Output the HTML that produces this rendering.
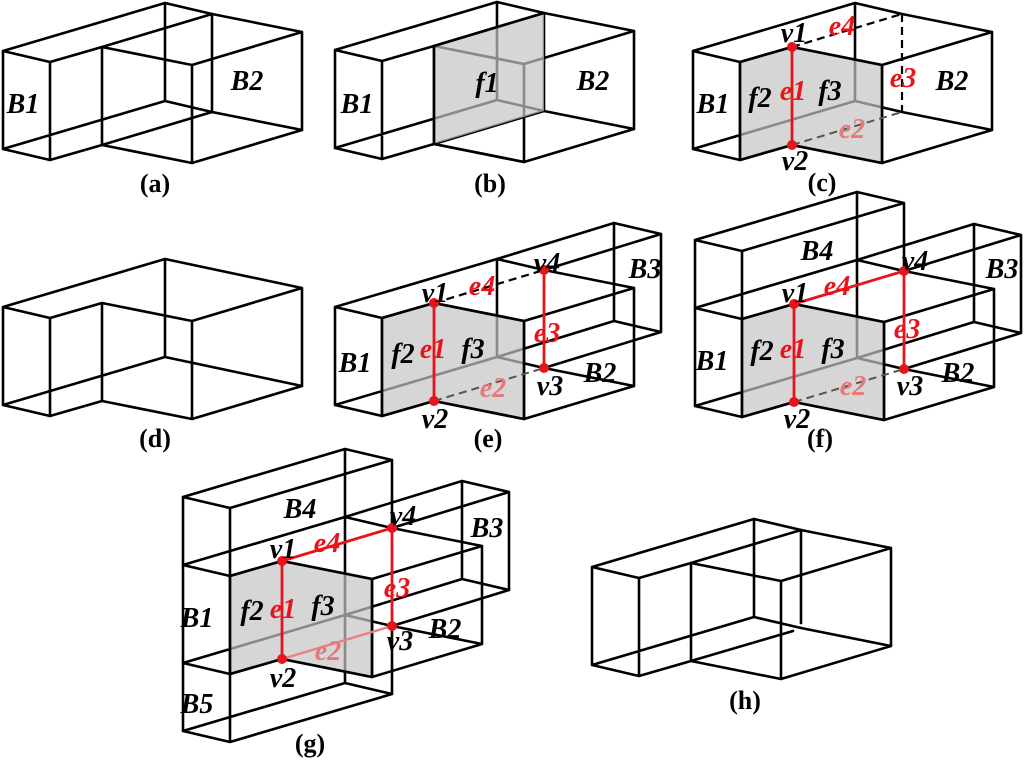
<!DOCTYPE html>
<html><head><meta charset="utf-8"><style>
html,body{margin:0;padding:0;background:#fff;}
svg{display:block;}
.k{fill:none;stroke:#000;stroke-width:2.6;stroke-linecap:round;stroke-linejoin:round;}
.ds{fill:none;stroke:#000;stroke-width:2.2;stroke-dasharray:8 5;}
.dg{fill:none;stroke:#555;stroke-width:2;stroke-dasharray:8 5;}
.r{fill:none;stroke:#e8141c;stroke-width:2.8;}
.rp{fill:none;stroke:#ea7f7f;stroke-width:2.4;}
.sh{fill:#c4c4c4;fill-opacity:0.7;stroke:none;}
text{font-family:"Liberation Serif",serif;font-weight:bold;}
.l{font-style:italic;font-size:28px;text-anchor:middle;fill:#000;}
.lr{font-style:italic;font-size:28px;text-anchor:middle;fill:#e8141c;}
.lp{font-style:italic;font-size:28px;text-anchor:middle;fill:#e87878;}
.c{font-size:26px;text-anchor:middle;fill:#000;}
</style></head><body>
<svg width="1024" height="762" viewBox="0 0 1024 762" xmlns="http://www.w3.org/2000/svg">

<!-- (a) -->
<g>
<path class="k" d="M3 51L50 62M50 62L102 47M3 51L165 3M165 3L212 14M3 149L50 160M50 160L102 145M3 149L165 101M165 101L212 112M3 51V149M50 62V160M165 3V101M102 47L192 65M192 65L302 32M302 32L212 14M102 145L192 163M192 163L302 130M302 130L212 112M192 65V163M302 32V130"/>
<path class="k" d="M102 47L212 14M212 14V112M102 145L212 112M102 47V145"/>
</g>
<!-- (b) -->
<g transform="translate(332,-1)">
<path class="k" d="M3 51L50 62M50 62L102 47M3 51L165 3M165 3L212 14M3 149L50 160M50 160L102 145M3 149L165 101M165 101L212 112M3 51V149M50 62V160M165 3V101M102 47L192 65M192 65L302 32M302 32L212 14M102 145L192 163M192 163L302 130M302 130L212 112M192 65V163M302 32V130"/>
<path class="k" d="M102 47L212 14M212 14V112M102 145L212 112M102 47V145"/>
<polygon class="sh" points="102,47 212,14 212,112 102,145"/>
<path class="k" d="M102 47L212 14M102 47V145M102 145L192 163"/>
</g>
<!-- (c) -->
<g transform="translate(690,0)">
<path class="k" d="M3 51L50 62M50 62L102 47M3 51L165 3M165 3L212 14M3 149L50 160M50 160L102 145M3 149L165 101M165 101L212 112M3 51V149M50 62V160M165 3V101M102 47L192 65M192 65L302 32M302 32L212 14M102 145L192 163M192 163L302 130M302 130L212 112M192 65V163M302 32V130"/>
<polygon class="sh" points="50,62 102,47 192,65 192,163 102,145 50,160"/>
<path class="k" d="M50 62L102 47L192 65V163L102 145L50 160Z"/>
<path class="ds" d="M102 47L212 14M212 14V112"/><path class="dg" d="M102 145L212 112"/>
<path class="r" d="M102 47V145"/><circle cx="102" cy="47" r="5" fill="#e8141c"/><circle cx="102" cy="145" r="5" fill="#e8141c"/>
</g>
<!-- (d) -->
<g transform="translate(0,256)"><path class="k" d="M3 51L50 62L102 47L192 65L302 32L165 3Z M3 149L50 160L102 145L192 163L302 130L165 101Z M3 51V149M50 62V160M102 47V145M192 65V163M302 32V130M165 3V101"/></g>
<!-- (e) -->
<g transform="translate(332,256)">
<path class="k" d="M3 51L50 62M50 62L102 47M3 51L165 3M165 3L212 14M3 149L50 160M50 160L102 145M3 149L165 101M165 101L212 112M3 51V149M50 62V160M165 3V101M102 47L192 65M192 65L302 32M302 32L212 14M102 145L192 163M192 163L302 130M302 130L212 112M192 65V163M302 32V130"/>
<path class="k" d="M165 3L282 -33M282 -33L329 -22M329 -22L212 14M165 101L282 65M282 65L329 76M329 76L212 112M282 -33V65M329 -22V76"/>
<polygon class="sh" points="50,62 102,47 192,65 192,163 102,145 50,160"/>
<path class="k" d="M50 62L102 47L192 65V163L102 145L50 160Z"/>
<path class="ds" d="M102 47L212 14"/><path class="dg" d="M102 145L212 112"/>
<path class="r" d="M102 47V145M212 14V112"/>
<circle cx="102" cy="47" r="5" fill="#e8141c"/><circle cx="102" cy="145" r="5" fill="#e8141c"/><circle cx="212" cy="14" r="5" fill="#e8141c"/><circle cx="212" cy="112" r="5" fill="#e8141c"/>
</g>
<!-- (f) -->
<g transform="translate(692,257)">
<path class="k" d="M3 51L50 62M50 62L102 47M3 51L165 3M165 3L212 14M3 149L50 160M50 160L102 145M3 149L165 101M165 101L212 112M3 51V149M50 62V160M165 3V101M102 47L192 65M192 65L302 32M302 32L212 14M102 145L192 163M192 163L302 130M302 130L212 112M192 65V163M302 32V130"/>
<path class="k" d="M165 3L282 -33M282 -33L329 -22M329 -22L212 14M165 101L282 65M282 65L329 76M329 76L212 112M282 -33V65M329 -22V76"/>
<path class="k" d="M3 -17L50 -6M50 -6L212 -54M3 -17L165 -65M165 -65L212 -54M3 -17V51M50 -6V62M165 -65V3M212 -54V14"/>
<polygon class="sh" points="50,62 102,47 192,65 192,163 102,145 50,160"/>
<path class="k" d="M50 62L102 47L192 65V163L102 145L50 160Z"/>
<path class="dg" d="M102 145L212 112"/>
<path class="r" d="M102 47V145M212 14V112M102 47L212 14"/>
<circle cx="102" cy="47" r="5" fill="#e8141c"/><circle cx="102" cy="145" r="5" fill="#e8141c"/><circle cx="212" cy="14" r="5" fill="#e8141c"/><circle cx="212" cy="112" r="5" fill="#e8141c"/>
</g>
<!-- (g) -->
<g transform="translate(180,514)">
<path class="k" d="M3 51L50 62M50 62L102 47M3 51L165 3M165 3L212 14M3 149L50 160M50 160L102 145M3 149L165 101M165 101L212 112M3 51V149M50 62V160M165 3V101M102 47L192 65M192 65L302 32M302 32L212 14M102 145L192 163M192 163L302 130M302 130L212 112M192 65V163M302 32V130"/>
<path class="k" d="M165 3L282 -33M282 -33L329 -22M329 -22L212 14M165 101L282 65M282 65L329 76M329 76L212 112M282 -33V65M329 -22V76"/>
<path class="k" d="M3 -17L50 -6M50 -6L212 -54M3 -17L165 -65M165 -65L212 -54M3 -17V51M50 -6V62M165 -65V3M212 -54V14"/>
<path class="k" d="M3 217L50 228M50 228L212 180M3 217L165 169M165 169L212 180M3 149V217M50 160V228M165 101V169M212 112V180"/>
<polygon class="sh" points="50,62 102,47 192,65 192,163 102,145 50,160"/>
<path class="k" d="M50 62L102 47L192 65V163L102 145L50 160Z"/>
<path class="rp" d="M102 145L212 112"/>
<path class="r" d="M102 47V145M212 14V112M102 47L212 14"/>
<circle cx="102" cy="47" r="5" fill="#e8141c"/><circle cx="102" cy="145" r="5" fill="#e8141c"/><circle cx="212" cy="14" r="5" fill="#e8141c"/><circle cx="212" cy="112" r="5" fill="#e8141c"/>
</g>
<!-- (h) -->
<g transform="translate(589,516)">
<path class="k" d="M3 51L50 62M50 62L102 47M3 51L165 3M165 3L212 14M3 149L50 160M50 160L102 145M3 149L165 101M165 101L212 112M3 51V149M50 62V160M165 3V101M102 47L192 65M192 65L302 32M302 32L212 14M102 145L192 163M192 163L302 130M302 130L212 112M192 65V163M302 32V130"/>
<path class="k" d="M102 47L212 14M212 14V107M102 145L204 115M102 47V145"/>
</g>

<!-- labels (a) -->
<text class="l" x="23" y="113">B1</text><text class="l" x="247" y="90">B2</text>
<text class="c" x="155" y="192">(a)</text>
<!-- (b) -->
<text class="l" x="357" y="113">B1</text><text class="l" x="487" y="92">f1</text><text class="l" x="593" y="90">B2</text>
<text class="c" x="490" y="192">(b)</text>
<!-- (c) -->
<text class="l" x="794" y="42">v1</text><text class="lr" x="842" y="35">e4</text><text class="lr" x="903" y="87">e3</text>
<text class="l" x="952" y="90">B2</text><text class="l" x="713" y="113">B1</text><text class="l" x="760" y="107">f2</text>
<text class="lr" x="793" y="100">e1</text><text class="l" x="830" y="100">f3</text><text class="lp" x="852" y="138">e2</text>
<text class="l" x="795" y="170">v2</text><text class="c" x="822" y="191">(c)</text>
<!-- (d) -->
<text class="c" x="155" y="447">(d)</text>
<!-- (e) -->
<text class="l" x="435" y="302">v1</text><text class="lr" x="482" y="295">e4</text><text class="l" x="547" y="272">v4</text>
<text class="l" x="645" y="278">B3</text><text class="lr" x="547" y="342">e3</text><text class="l" x="355" y="372">B1</text>
<text class="l" x="403" y="363">f2</text><text class="lr" x="433" y="358">e1</text><text class="l" x="473" y="358">f3</text>
<text class="l" x="600" y="382">B2</text><text class="l" x="550" y="395">v3</text><text class="lp" x="493" y="397">e2</text>
<text class="l" x="435" y="428">v2</text><text class="c" x="488" y="447">(e)</text>
<!-- (f) -->
<text class="l" x="817" y="260">B4</text><text class="l" x="915" y="270">v4</text><text class="l" x="1002" y="278">B3</text>
<text class="l" x="795" y="302">v1</text><text class="lr" x="837" y="295">e4</text><text class="lr" x="907" y="338">e3</text>
<text class="l" x="712" y="370">B1</text><text class="l" x="762" y="360">f2</text><text class="lr" x="793" y="358">e1</text>
<text class="l" x="833" y="358">f3</text><text class="l" x="958" y="382">B2</text><text class="l" x="910" y="395">v3</text>
<text class="lp" x="853" y="395">e2</text><text class="l" x="797" y="428">v2</text><text class="c" x="820" y="447">(f)</text>
<!-- (g) -->
<text class="l" x="300" y="518">B4</text><text class="l" x="403" y="525">v4</text><text class="l" x="487" y="537">B3</text>
<text class="l" x="283" y="558">v1</text><text class="lr" x="327" y="552">e4</text><text class="lr" x="397" y="597">e3</text>
<text class="l" x="197" y="627">B1</text><text class="l" x="252" y="620">f2</text><text class="lr" x="283" y="618">e1</text>
<text class="l" x="323" y="615">f3</text><text class="l" x="445" y="638">B2</text><text class="l" x="400" y="650">v3</text>
<text class="lp" x="328" y="660">e2</text><text class="l" x="283" y="687">v2</text><text class="l" x="197" y="713">B5</text>
<text class="c" x="310" y="752">(g)</text>
<!-- (h) -->
<text class="c" x="745" y="709">(h)</text>
</svg>
</body></html>
